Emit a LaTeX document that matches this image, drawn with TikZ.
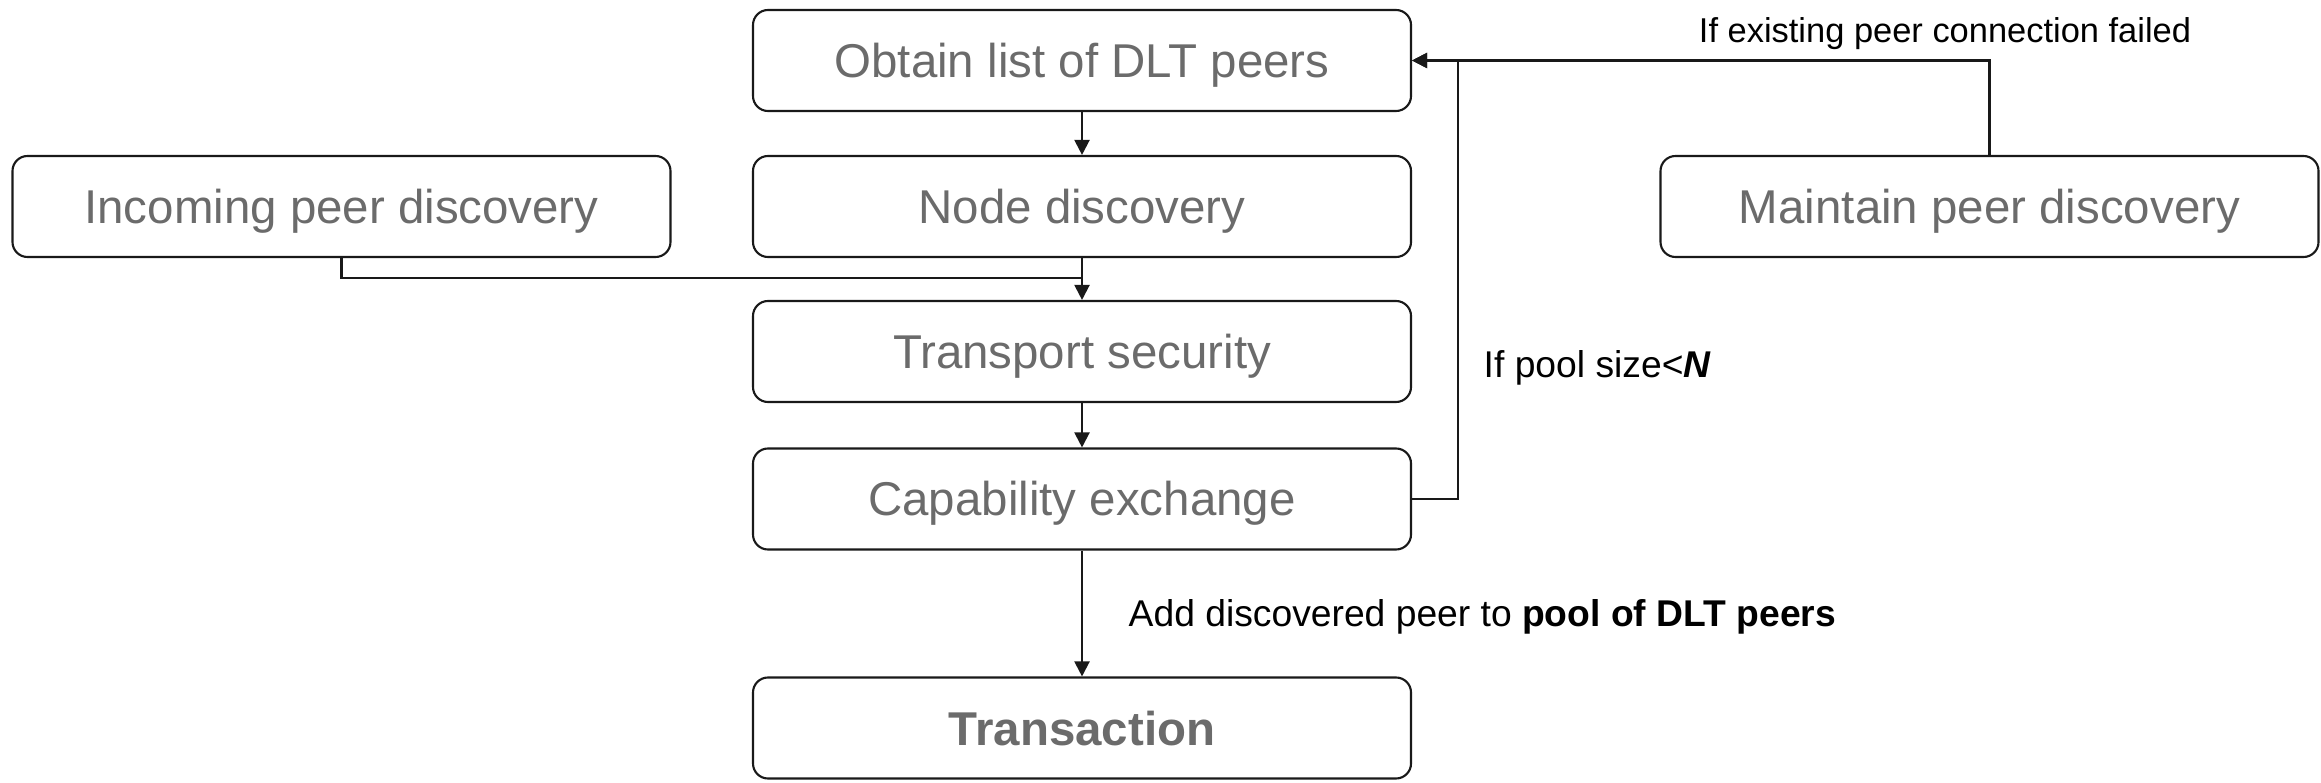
\documentclass[tikz,border=0pt]{standalone}
\usepackage{fontspec}
\setmainfont{Liberation Sans}
\usetikzlibrary{arrows.meta}
\definecolor{boxtext}{HTML}{6B6B6B}
\tikzset{
        box/.style={draw=black!90, line width=0.6pt, rounded corners=0.15cm, minimum width=6.58cm, minimum height=1.01cm, text=boxtext, font=\fontsize{13.5}{16}\selectfont, inner sep=0pt, text height=0.34cm, text depth=0pt},
        note/.style={text=black, font=\fontsize{9.8}{12}\selectfont, inner sep=0pt},
        bignote/.style={note, font=\fontsize{10.6}{13}\selectfont},
        flow/.style={line width=0.6pt, draw=black!90, -{Triangle[length=1.5mm, width=1.5mm]}},
        wire/.style={line width=0.6pt, draw=black!90}
          }

\begin{document}
\begin{tikzpicture}
        \useasboundingbox (0,0) rectangle (23.21,7.82);
        \node[box] (obtain) at (10.82,7.215) {Obtain list of DLT peers};
        \node[box] (nodedisc) at (10.82,5.755) {Node discovery};
        \node[box] (incoming) at (3.415,5.755) {Incoming peer discovery};
        \node[box] (maintain) at (19.895,5.755) {Maintain peer discovery};
        \node[box] (transport) at (10.82,4.305) {Transport security};
        \node[box] (capab) at (10.82,2.83) {Capability exchange};
        \node[box] (trans) at (10.82,0.54) {\textbf{Transaction}};

        \coordinate (join) at (10.82,5.04);
        \coordinate (loop) at (14.58,7.215);

        \draw[flow] (obtain) -- (nodedisc);
        \draw[flow] (nodedisc) -- (transport);
        \draw[wire] (incoming.south) |- (join);
        \draw[flow] (transport) -- (capab);
        \draw[flow] (capab) -- (trans);
        \draw[flow] (capab.east) -| (loop) -- (obtain.east);
        \draw[flow] (maintain.north) |- (obtain.east);

        \node[note] (failed) at (19.45,7.48) {If existing peer connection failed};
        \node[bignote, anchor=west] (poolsize) at (14.83,4.14) {If pool size<\textbf{\textit{N}}};
        \node[bignote, anchor=west] (addpeer) at (11.28,1.65) {Add discovered peer to \textbf{pool of DLT peers}};
      \end{tikzpicture}
\end{document}
